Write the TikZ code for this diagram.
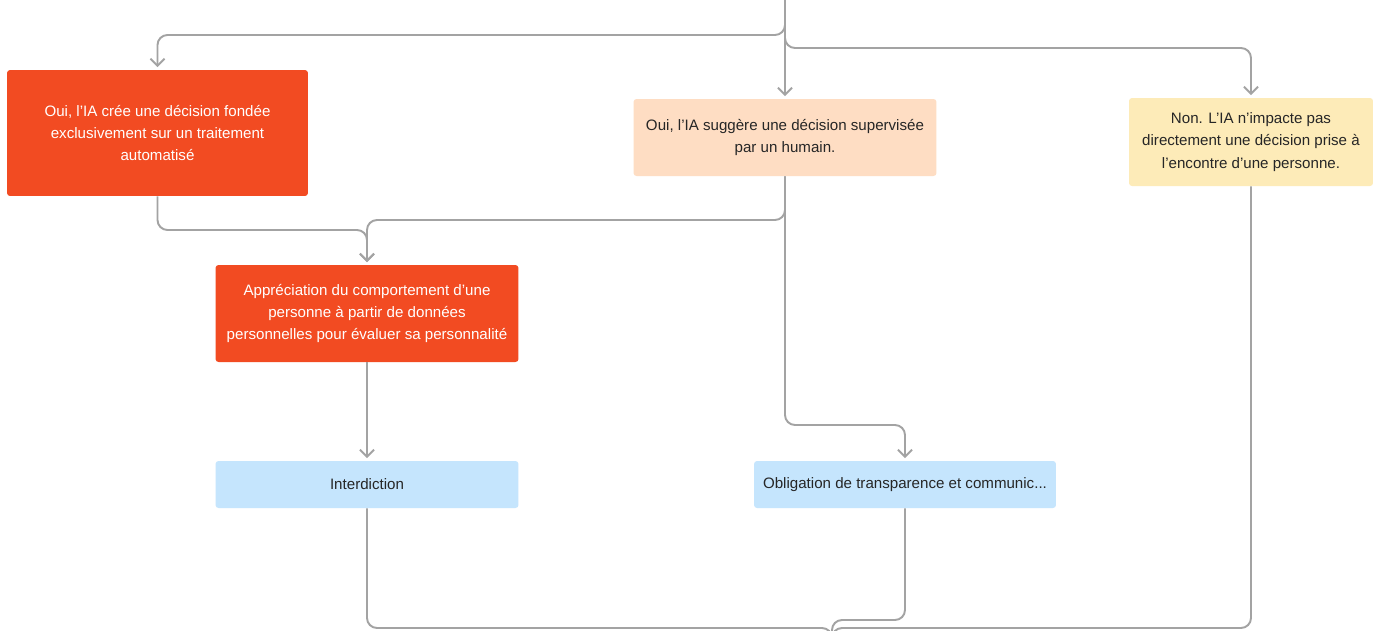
\documentclass[tikz,border=0pt]{standalone}
\usepackage{fontspec}
\setmainfont{Liberation Sans}
\usetikzlibrary{arrows.meta}
\definecolor{redbox}{HTML}{F24B22}
\definecolor{peach}{HTML}{FEDDC3}
\definecolor{yell}{HTML}{FDEBB8}
\definecolor{bluebox}{HTML}{C5E5FD}
\definecolor{conncol}{HTML}{A3A3A3}
\definecolor{txt}{HTML}{262626}
\tikzset{
  box/.style={rectangle, rounded corners=0.6mm, align=center, inner sep=0pt,
    font=\fontsize{8.6}{12.8}\selectfont},
  redb/.style={box, fill=redbox, text=white},
  peachb/.style={box, fill=peach, text=txt},
  yellb/.style={box, fill=yell, text=txt},
  blueb/.style={box, fill=bluebox, text=txt},
  conn/.style={draw=conncol, line width=1.1pt, rounded corners=2mm},
  arr/.style={conn, -{Straight Barb[length=4pt,width=8pt,line width=1.1pt]}, shorten >=1.5pt},
}
\begin{document}
\begin{tikzpicture}[x=0.02cm,y=-0.02cm]
\useasboundingbox (0,0) rectangle (1380,630);
\clip (0,0) rectangle (1380,630);
\fill[white] (0,0) rectangle (1380,630);

\node[redb, minimum width=60.2mm, minimum height=25.2mm] (A) at (157.5,133)
  {Oui, l’IA crée une décision fondée\\exclusivement sur un traitement\\automatisé};
\node[peachb, minimum width=60.6mm, minimum height=15.4mm] (B) at (785,137.5)
  {Oui, l’IA suggère une décision supervisée\\par un humain.};
\node[yellb, minimum width=48.8mm, minimum height=17.6mm] (C) at (1251,142)
  {Non. L’IA n’impacte pas\\directement une décision prise à\\l’encontre d’une personne.};
\node[redb, minimum width=60.6mm, minimum height=19.4mm] (D) at (367,313.5)
  {Appréciation du comportement d’une\\personne à partir de données\\personnelles pour évaluer sa personnalité};
\node[blueb, minimum width=60.6mm, minimum height=9.4mm] (E) at (367,484.5)
  {Interdiction};
\node[blueb, minimum width=60.4mm, minimum height=9.4mm] (F) at (905,484.5)
  {Obligation de transparence et communic...};

\coordinate (top) at (785,-5);
\coordinate (out) at (832,660);

\draw[arr] (top) |- (400,35) -| (A.north);
\draw[arr] (top) -- (B.north);
\draw[arr] (top) |- (1000,48) -| (C.north);
\draw[arr] (A.south) |- (260,230) -| (D.north);
\draw[arr] (B.south) |- (600,220) -| (D.north);
\draw[arr] (B.south) |- (850,425) -| (F.north);
\draw[arr] (D.south) -- (E.north);
\draw[conn] (E.south) |- (832,628) -- (out);
\draw[conn] (F.south) |- (832,620) -- (out);
\draw[conn] (C.south) |- (832,628) -- (out);
\end{tikzpicture}
\end{document}
